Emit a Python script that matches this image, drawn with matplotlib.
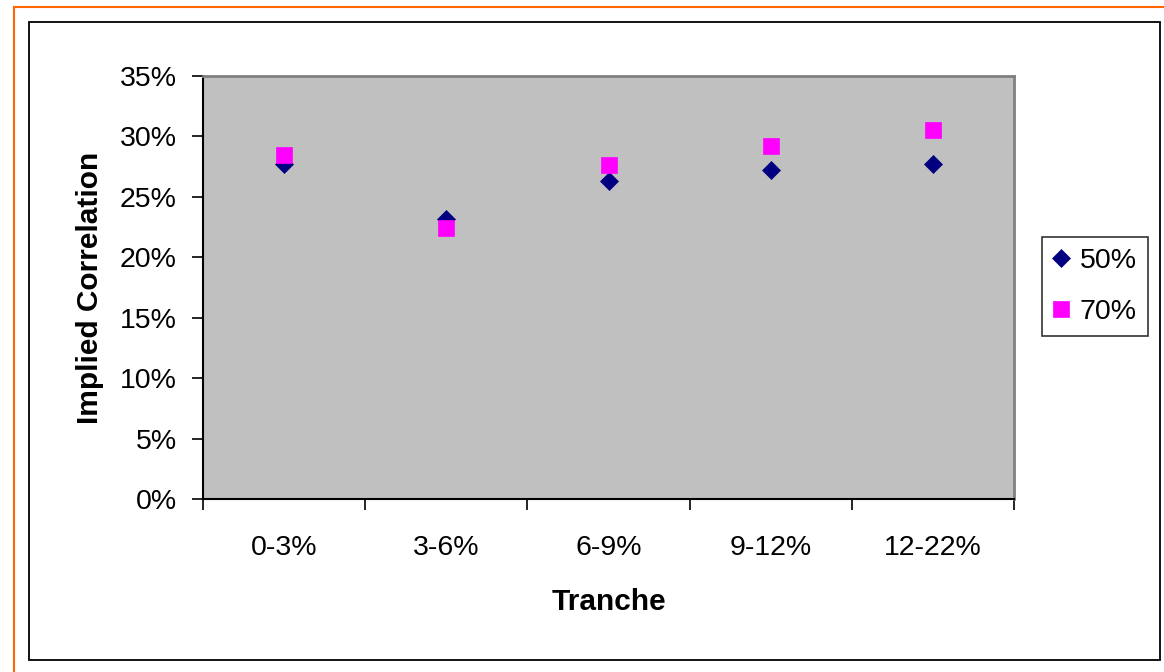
import matplotlib.pyplot as plt
from matplotlib.patches import Rectangle
from matplotlib.ticker import FixedLocator, PercentFormatter

plt.rcParams['font.family'] = ['Liberation Sans', 'DejaVu Sans']

tranches = ["0-3%", "3-6%", "6-9%", "9-12%", "12-22%"]
corr_50 = [0.277, 0.232, 0.263, 0.272, 0.277]
corr_70 = [0.285, 0.224, 0.276, 0.292, 0.305]

fig = plt.figure(figsize=(11.64, 6.72), dpi=100)

# outer orange frame and black chart-area frame
fig.add_artist(Rectangle((14 / 1164, 1 - 700 / 672), 1200 / 1164, 693 / 672,
                         transform=fig.transFigure, fill=False,
                         edgecolor='#FF6600', linewidth=1.5))
fig.add_artist(Rectangle((29 / 1164, 1 - 660 / 672), 1131 / 1164, 638 / 672,
                         transform=fig.transFigure, fill=False,
                         edgecolor='black', linewidth=1.3))

ax = fig.add_axes([203 / 1164, 1 - 499 / 672, 811 / 1164, 423 / 672])
ax.set_facecolor('#C0C0C0')

x = range(1, len(tranches) + 1)
ax.plot(x, corr_50, linestyle='none', marker='D', markersize=9.5,
        color='#000080', markeredgewidth=0.5, label='50%', zorder=3)
ax.plot(x, corr_70, linestyle='none', marker='s', markersize=11,
        color='#FF00FF', markeredgewidth=0.5, label='70%', zorder=4)

ax.set_xlim(0.5, len(tranches) + 0.5)
ax.set_ylim(0, 0.35)

ax.set_yticks([i * 0.05 for i in range(8)])
ax.yaxis.set_major_formatter(PercentFormatter(1.0, decimals=0))
ax.tick_params(axis='y', direction='out', length=8, width=1.2,
               labelsize=20.5, pad=11)

# category labels centred, tick marks between categories
ax.set_xticks(list(x))
ax.set_xticklabels(tranches)
ax.xaxis.set_minor_locator(FixedLocator([i + 0.5 for i in range(len(tranches) + 1)]))
ax.tick_params(axis='x', which='major', length=0, labelsize=20.5, pad=26)
ax.tick_params(axis='x', which='minor', direction='out', length=8, width=1.2)

for side in ('left', 'bottom'):
    ax.spines[side].set_color('black')
    ax.spines[side].set_linewidth(1.5)
for side in ('top', 'right'):
    ax.spines[side].set_color('#808080')
    ax.spines[side].set_linewidth(2)

ax.set_xlabel('Tranche', fontsize=21.5, fontweight='bold', labelpad=19)
ax.set_ylabel('Implied Correlation', fontsize=21.5, fontweight='bold', labelpad=11)

leg = fig.legend(loc='center', bbox_to_anchor=(0.9407, 0.5737), fontsize=20.5,
                 frameon=True, fancybox=False, edgecolor='black',
                 handlelength=0.6, handletextpad=0.35, labelspacing=0.85,
                 borderpad=0.4, numpoints=1)
leg.get_frame().set_linewidth(1.2)

fig.savefig('out.png', dpi=100)
